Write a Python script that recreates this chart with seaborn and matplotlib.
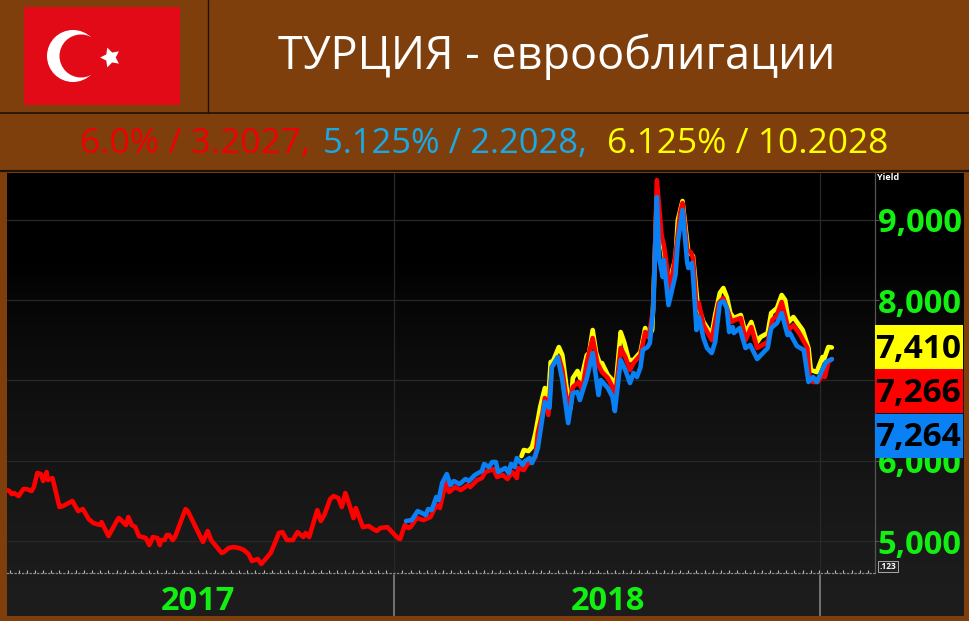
import matplotlib
matplotlib.use("Agg")
import numpy as np
import pandas as pd
import seaborn as sns
import matplotlib.pyplot as plt
import matplotlib.dates as mdates
from matplotlib.patches import Rectangle, Circle

red_days = [-332, -330, -328, -326, -322, -318, -315, -311, -309, -306, -303, -301, -298, -297, -293, -287, -284,
            -276, -271, -267, -262, -258, -252, -251, -245, -237, -236, -230, -228, -225, -222, -219, -213, -210,
            -207, -203, -201, -200, -197, -195, -193, -190, -188, -179, -177, -172, -164, -160, -157, -155, -148,
            -146, -142, -138, -133, -129, -125, -122, -117, -114, -106, -102, -99, -96, -92, -87, -83, -78, -76,
            -73, -66, -63, -60, -55, -52, -48, -45, -42, -39, -35, -33, -27, -22, -18, -15, -12, -6, -2, 3, 5, 9,
            12, 14, 19, 25, 31, 36, 39, 44, 47, 52, 57, 63, 65, 71, 75, 78, 85, 88, 93, 97, 101, 105, 106, 111,
            114, 118, 121, 123, 127, 129, 132, 135, 141, 144, 149, 153, 158, 161, 165, 170, 174, 178, 183, 187,
            189, 194, 198, 202, 205, 211, 215, 218, 222, 225, 229, 231, 233, 236, 241, 245, 247, 251, 254, 256,
            259, 261, 265, 272, 275, 278, 282, 285, 289, 292, 297, 301, 306, 311, 320, 324, 328, 332, 338, 342,
            348, 354, 356, 359, 363, 367, 369, 372, 375]
red_yield = [5635, 5622, 5585, 5598, 5560, 5647, 5647, 5622, 5672, 5847, 5834, 5747, 5859, 5759, 5784, 5423, 5436,
             5498, 5373, 5398, 5274, 5224, 5199, 5237, 5062, 5274, 5286, 5199, 5299, 5199, 5174, 5062, 5037, 4950,
             5050, 5037, 4950, 5012, 5012, 5075, 5075, 5012, 5050, 5398, 5373, 5224, 4988, 5125, 5012, 4975, 4851,
             4863, 4913, 4925, 4913, 4888, 4838, 4751, 4776, 4714, 4851, 4988, 5100, 5112, 5012, 5012, 5112, 5050,
             5100, 5050, 5386, 5249, 5324, 5523, 5560, 5535, 5423, 5598, 5473, 5286, 5411, 5174, 5187, 5149, 5125,
             5162, 5174, 5112, 5037, 5025, 5199, 5162, 5174, 5286, 5261, 5299, 5448, 5411, 5722, 5610, 5672, 5635,
             5697, 5672, 5759, 5784, 5859, 5896, 5797, 5822, 5772, 5859, 5784, 5909, 5884, 5959, 5984, 6046, 6345,
             6594, 6780, 6569, 7166, 7291, 7129, 6631, 6917, 6980, 6880, 7229, 7527, 7216, 7104, 7029, 6917, 6755,
             7403, 7291, 7129, 7216, 7316, 7602, 7540, 7901, 9494, 8810, 8685, 8474, 8100, 8561, 9084, 9208, 8623,
             8598, 8523, 7901, 7963, 7689, 7502, 7727, 7963, 8025, 7901, 7727, 7752, 7776, 7502, 7664, 7403, 7478,
             7752, 7814, 7976, 7627, 7689, 7565, 7403, 7004, 6980, 6980, 7067, 7042, 7229, 7266]

blue_days = [10, 15, 20, 27, 29, 32, 36, 38, 41, 45, 48, 51, 56, 61, 64, 69, 75, 77, 81, 84, 87, 89, 95, 98, 100,
             103, 105, 110, 112, 116, 118, 121, 123, 127, 129, 133, 135, 140, 144, 149, 153, 157, 159, 165, 170,
             175, 177, 183, 187, 189, 194, 198, 202, 205, 208, 211, 213, 217, 219, 222, 225, 227, 230, 231, 235,
             241, 243, 247, 251, 252, 255, 256, 259, 261, 265, 268, 272, 275, 279, 282, 285, 287, 290, 291, 296,
             301, 305, 311, 320, 323, 328, 332, 337, 339, 345, 351, 355, 359, 362, 368, 370, 375]
blue_yield = [5249, 5261, 5373, 5324, 5398, 5386, 5548, 5510, 5722, 5834, 5697, 5747, 5710, 5772, 5747, 5822, 5872,
              5959, 5921, 5984, 5984, 5859, 5909, 5847, 5959, 5921, 6033, 5946, 5996, 6033, 5971, 6071, 6158, 6544,
              6731, 6656, 7166, 7291, 7004, 6469, 6843, 6855, 6755, 7029, 7341, 6818, 7004, 6905, 6793, 6618, 7253,
              7129, 6967, 7092, 7042, 7166, 7378, 7415, 7465, 7901, 9283, 8523, 8287, 8498, 7938, 8312, 8723, 9121,
              8474, 8399, 8461, 8312, 7627, 7789, 7527, 7403, 7341, 7478, 7963, 7988, 7901, 7602, 7664, 7590, 7652,
              7403, 7440, 7266, 7403, 7652, 7714, 7839, 7565, 7590, 7428, 7378, 6980, 7042, 6980, 7166, 7229, 7264]

yellow_days = [109, 111, 115, 118, 121, 123, 125, 129, 132, 134, 136, 141, 144, 149, 151, 153, 157, 160, 165, 167,
               170, 173, 176, 178, 183, 187, 189, 194, 197, 201, 205, 211, 215, 218, 221, 222, 225, 229, 231, 235,
               241, 243, 247, 252, 256, 260, 265, 272, 275, 279, 282, 285, 288, 291, 297, 301, 306, 311, 314, 320,
               323, 328, 332, 335, 338, 342, 350, 355, 357, 362, 367, 368, 372, 375]
yellow_yield = [6058, 6133, 6120, 6170, 6345, 6506, 6668, 6905, 6780, 7229, 7241, 7415, 7316, 6755, 6656, 7029, 7117,
                7004, 7316, 7341, 7627, 7341, 7216, 7216, 7067, 7004, 6818, 7602, 7478, 7253, 7253, 7353, 7652, 7540,
                7627, 8000, 9300, 8747, 8623, 8187, 8523, 8996, 9233, 8598, 8548, 7938, 7727, 7565, 7814, 8088, 8150,
                8038, 7839, 7776, 7814, 7590, 7727, 7478, 7540, 7590, 7839, 7901, 8063, 8000, 7727, 7789, 7627, 7403,
                7129, 7104, 7291, 7253, 7415, 7410]

yield_ticks = [5000, 6000, 7000, 8000, 9000]
year_labels = ["2017", "2018"]
last_values = [7410, 7266, 7264]

BROWN = "#7f3f0c"
GREEN = "#12f012"
YELLOW = "#ffff00"
RED = "#ff0000"
BLUE = "#0a80f5"
W, H = 970, 621


def box(x0, y0, x1, y1):
    # pixel box of the picture to figure fractions, y counted from the top
    return [x0 / W, 1 - y1 / H, (x1 - x0) / W, (y1 - y0) / H]


def to_dates(days):
    return pd.Timestamp("2018-01-01") + pd.to_timedelta(days, unit="D")


sns.set_style("dark")
plt.rcParams["font.family"] = ["Open Sans", "DejaVu Sans"]

fig = plt.figure(figsize=(W / 100, H / 100), dpi=100, facecolor=BROWN)

# Dark background behind plot, year strip and value panel
bg = fig.add_axes(box(7, 173, 964, 616), zorder=0)
gradient = np.array([0.0, 0.0, 0.03, 0.05, 0.07, 0.085, 0.1, 0.11]).reshape(-1, 1)
bg.imshow(gradient, aspect="auto", cmap="gray", vmin=0, vmax=1, interpolation="bilinear")
bg.axis("off")

ax = fig.add_axes(box(7, 173, 875, 573), zorder=1)
ax.patch.set_alpha(0)

series = [(yellow_days, yellow_yield, YELLOW), (red_days, red_yield, RED), (blue_days, blue_yield, BLUE)]
for days, values, color in series:
    sns.lineplot(x=to_dates(days), y=values, ax=ax, color=color, lw=3.3, estimator=None, sort=False,
                 solid_joinstyle="round", solid_capstyle="round")

ax.set_xlim(to_dates(-332), to_dates(412))
ax.set_ylim(4602, 9582)
ax.set_xlabel("")
ax.set_ylabel("")
ax.set_yticks(yield_ticks)
ax.yaxis.tick_right()
# 7,000 sits behind the value tags, so it gets no label
ax.set_yticklabels([f"{v:,}" if v != 7000 else "" for v in yield_ticks], color=GREEN, fontsize=23.5,
                   fontweight="bold")
ax.tick_params(axis="y", length=3, color="#555555", pad=-1, right=True)
ax.set_xticks([to_dates(0), to_dates(365)])
ax.set_xticklabels([])
ax.xaxis.set_minor_locator(mdates.WeekdayLocator(byweekday=mdates.MO))
ax.tick_params(axis="x", which="major", length=0)
ax.tick_params(axis="x", which="minor", length=2, color="#bbbbbb", width=0.8, direction="in", bottom=True)
ax.grid(True, color="#282828", lw=0.9)
ax.set_axisbelow(True)
for name, spine in ax.spines.items():
    spine.set_visible(name in ("right", "bottom"))
    spine.set_color("#555555")
    spine.set_linewidth(0.9)
ax.spines["bottom"].set_color("#8a8a8a")
ax.spines["bottom"].set_linestyle((0, (1, 2)))

# Year strip under the plot shares the date scale
strip = fig.add_axes(box(7, 573, 875, 616), zorder=1, sharex=ax)
strip.patch.set_alpha(0)
strip.set_ylim(0, 1)
strip.set_yticks([])
strip.tick_params(axis="x", which="both", length=0, labelbottom=False)
strip.grid(False)
for spine in strip.spines.values():
    spine.set_visible(False)
for day in (0, 365):
    strip.axvline(to_dates(day), color="#8c8c8c", lw=1.1, ymin=0, ymax=0.96)
for label, day in zip(year_labels, (-168, 183)):
    strip.text(to_dates(day), 0.34, label, color=GREEN, fontsize=23.5, fontweight="bold", ha="center", va="center")

# Overlay: header, value tags, small terminal labels
over = fig.add_axes([0, 0, 1, 1], zorder=5)
over.set_xlim(0, W)
over.set_ylim(H, 0)
over.axis("off")
over.patch.set_alpha(0)

over.plot([208, 208], [0, 113], color="#1f1308", lw=1)
over.plot([0, W], [113, 113], color="#1f1308", lw=1.2)
over.plot([0, W], [171, 171], color="#1f1308", lw=1.6)
over.add_patch(Rectangle((24, 7), 156, 98, color="#e30a17", lw=0))
over.add_patch(Circle((73, 56), 26, color="#ffffff", lw=0))
over.add_patch(Circle((81, 56), 21.5, color="#e30a17", lw=0))
over.plot([110], [57], marker=(5, 1, 90), ms=15, color="#ffffff", mew=0)

over.text(557, 57, "ТУРЦИЯ - еврооблигации", color="white", fontsize=32.4, ha="center", va="center")
over.text(80, 144, "6.0% / 3.2027,", color="#f00000", fontsize=25.5, ha="left", va="center")
over.text(323, 144, "5.125% / 2.2028,", color="#1ca8e3", fontsize=24.8, ha="left", va="center")
over.text(607, 144, "6.125% / 10.2028", color=YELLOW, fontsize=25.5, ha="left", va="center")

tag_tops = [325, 369, 414]
for value, color, top in zip(last_values, [YELLOW, RED, BLUE], tag_tops):
    over.add_patch(Rectangle((875, top), 88, 44, color=color, lw=0))
    over.text(918, top + 24, f"{value:,}", color="black", fontsize=24, fontweight="bold", ha="center", va="center")

over.text(877, 178, "Yield", color="white", fontsize=6.5, fontweight="bold", ha="left", va="center")
over.text(888, 566.5, ".123", color="white", fontsize=6, fontweight="bold", ha="center", va="center",
          bbox=dict(boxstyle="square,pad=0.15", fc="#222222", ec="#aaaaaa", lw=0.7))

fig.savefig("out.png", dpi=100, facecolor=BROWN)
